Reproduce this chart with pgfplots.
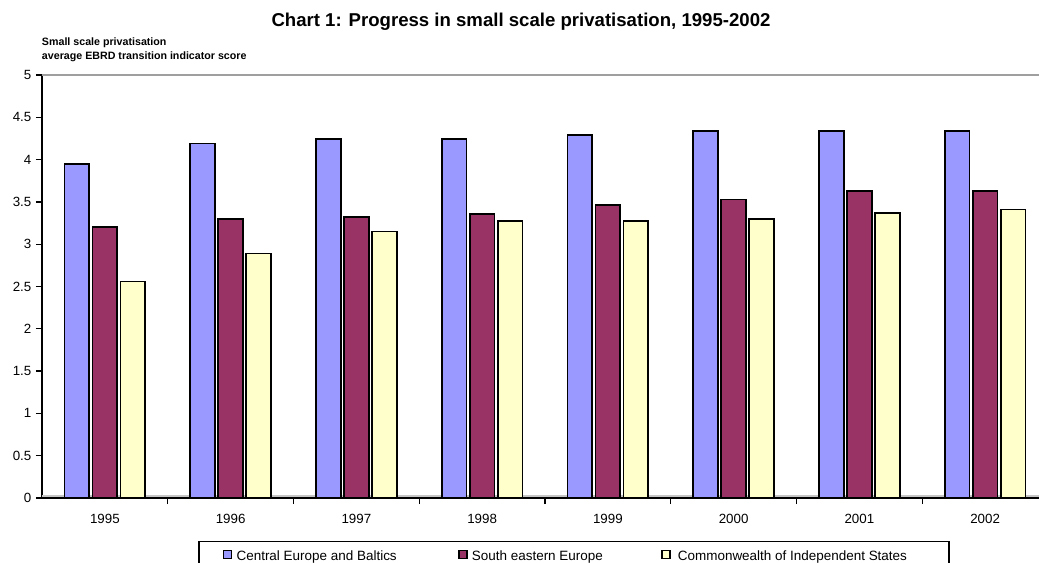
\documentclass[border=0pt]{standalone}
\usepackage{fontspec}
\setmainfont{Liberation Sans}
\usepackage{pgfplots}
\pgfplotsset{compat=1.18}

\definecolor{cebblue}{HTML}{9999FF}
\definecolor{seemaroon}{HTML}{993366}
\definecolor{cisyellow}{HTML}{FFFFCC}

\pgfplotsset{
  sq legend/.style={legend image code/.code={
    \draw[##1, line width=1pt] (0pt,-1.65pt) rectangle (6pt,4.35pt);}},
}

\begin{document}
\begin{tikzpicture}
% fixed page frame (the category axis runs on past the right edge)
\useasboundingbox (-31.5pt,-48pt) rectangle (747.75pt,373.5pt);

\begin{axis}[
  at={(0pt,0pt)}, anchor=south west,
  scale only axis, width=754.5pt, height=317.25pt,
  xmin=-0.5, xmax=7.5, ymin=0, ymax=5,
  ybar=2.5pt, bar width=18.5pt,
  axis x line*=bottom, axis y line*=left,
  axis line style={black, line width=1.4pt},
  xtick={0,1,2,3,4,5,6,7},
  xticklabels={1995,1996,1997,1998,1999,2000,2001,2002},
  minor xtick={0.5,1.5,2.5,3.5,4.5,5.5,6.5},
  ytick={0,0.5,1,1.5,2,2.5,3,3.5,4,4.5,5},
  yticklabels={0,0.5,1,1.5,2,2.5,3,3.5,4,4.5,5},
  tick align=outside,
  major tick length=4.5pt, minor tick length=4.5pt,
  major x tick style={draw=none},
  tick style={black, line width=1pt},
  ticklabel style={font=\fontsize{10}{12}\selectfont},
  xticklabel style={yshift=-3.75pt},
  legend columns=3,
  legend cell align=left,
  legend style={at={(0.15537,-0.10165)}, anchor=north west,
    draw=black, line width=1pt, fill=white,
    inner xsep=18pt, inner ysep=6pt,
    column sep=0pt, nodes={inner sep=0pt},
    font=\fontsize{10.1}{12}\selectfont},
  clip=false,
]
% grey wall top edge and floor
\draw[line width=1.2pt, gray!75] (axis cs:-0.5,5) -- (axis cs:7.5,5);
\draw[line width=2pt, gray!45] ([yshift=1.6pt]axis cs:-0.5,0) -- ([yshift=1.6pt]axis cs:7.5,0);

\addplot[fill=cebblue, draw=black, line width=1.3pt, sq legend] coordinates {
  (0,3.95) (1,4.19) (2,4.24) (3,4.24) (4,4.29) (5,4.34) (6,4.34) (7,4.34)};
\addlegendentry{\makebox[169.5pt][l]{\hspace{3.2pt}Central Europe and Baltics}}

\addplot[fill=seemaroon, draw=black, line width=1.3pt, sq legend] coordinates {
  (0,3.20) (1,3.30) (2,3.32) (3,3.36) (4,3.46) (5,3.53) (6,3.63) (7,3.63)};
\addlegendentry{\makebox[145.2pt][l]{\hspace{3.2pt}South eastern Europe}}

\addplot[fill=cisyellow, draw=black, line width=1.3pt, sq legend] coordinates {
  (0,2.56) (1,2.89) (2,3.15) (3,3.27) (4,3.27) (5,3.30) (6,3.37) (7,3.41)};
\addlegendentry{\makebox[190.7pt][l]{\hspace{5.5pt}Commonwealth of Independent States}}
\end{axis}

\node[anchor=base, inner sep=0pt, font=\fontsize{13.95}{16}\selectfont\bfseries]
  at (359.25pt,353.5pt) {Chart 1: Progress in small scale privatisation, 1995-2002};
\node[anchor=base west, inner sep=0pt, font=\fontsize{8}{10}\selectfont\bfseries]
  at (-0.2pt,339.75pt) {Small scale privatisation};
\node[anchor=base west, inner sep=0pt, font=\fontsize{8}{10}\selectfont\bfseries]
  at (-0.2pt,329.25pt) {average EBRD transition indicator score};
\end{tikzpicture}
\end{document}
